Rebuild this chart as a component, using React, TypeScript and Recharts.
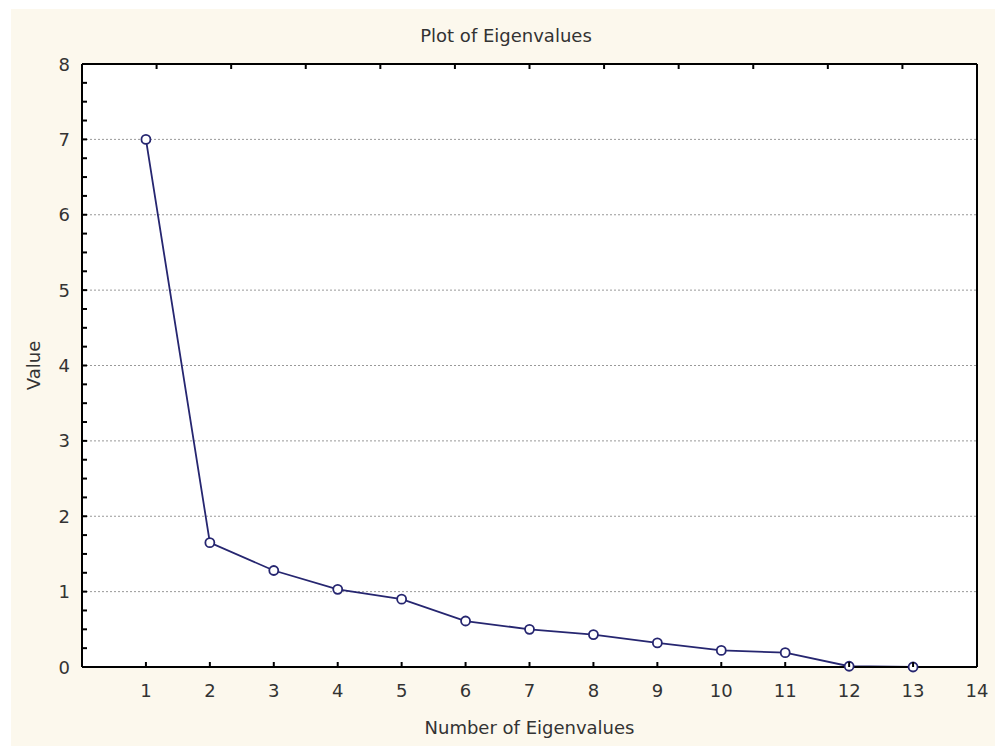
import {
  LineChart,
  Line,
  XAxis,
  YAxis,
  CartesianGrid,
  Label,
} from "recharts";

const eigenNumbers = [1, 2, 3, 4, 5, 6, 7, 8, 9, 10, 11, 12, 13];
const eigenValues = [7.0, 1.65, 1.28, 1.03, 0.9, 0.61, 0.5, 0.43, 0.32, 0.22, 0.19, 0.01, 0.0];

const xTicks = [1, 2, 3, 4, 5, 6, 7, 8, 9, 10, 11, 12, 13, 14];
const yMajorTicks = [0, 1, 2, 3, 4, 5, 6, 7, 8];
const gridValues = [1, 2, 3, 4, 5, 6, 7];
const yMinorTicks = yMajorTicks.flatMap((v) =>
  v < 8 ? [v, v + 0.25, v + 0.5, v + 0.75] : [v]
);

const data = eigenNumbers.map((n, i) => ({ n, value: eigenValues[i] }));

const FONT = "'DejaVu Sans', sans-serif";
const TEXT = "#333";
const LINE = "#262670";

const BottomTick = (props: any) => {
  const { x, y, payload } = props;
  return (
    <g>
      <line x1={x} x2={x} y1={y} y2={y - 5} stroke="#000" strokeWidth={2} />
      <text x={x} y={y + 23} textAnchor="middle" dominantBaseline="central" fill={TEXT} fontSize={18} fontFamily={FONT}>
        {payload.value}
      </text>
    </g>
  );
};

const TopTick = (props: any) => {
  const { x, y } = props;
  return <line x1={x} x2={x} y1={y} y2={y + 5} stroke="#000" strokeWidth={2} />;
};

const LeftTick = (props: any) => {
  const { x, y, payload } = props;
  const isMajor = Number.isInteger(payload.value);
  return (
    <g>
      <line x1={x} x2={x + 5} y1={y} y2={y} stroke="#000" strokeWidth={2} />
      {isMajor && (
        <text x={x - 12} y={y} textAnchor="end" dominantBaseline="central" fill={TEXT} fontSize={18} fontFamily={FONT}>
          {payload.value}
        </text>
      )}
    </g>
  );
};

const RightTick = (props: any) => {
  const { x, y } = props;
  return <line x1={x} x2={x - 5} y1={y} y2={y} stroke="#000" strokeWidth={2} />;
};

export default function App() {
  return (
    <div style={{ position: "absolute", left: 0, top: 0, width: 995, height: 746, background: "#fff" }}>
      <div style={{ position: "absolute", left: 11, top: 9, width: 984, height: 737, background: "#fcf8ed" }} />
      <div
        style={{
          position: "absolute",
          left: 0,
          top: 36,
          width: 1012,
          textAlign: "center",
          fontFamily: FONT,
          fontSize: 18,
          color: TEXT,
          lineHeight: "0px",
        }}
      >
        Plot of Eigenvalues
      </div>
      <div style={{ position: "absolute", left: 0, top: 0 }}>
        <LineChart width={995} height={746} data={data} margin={{ top: 0, right: 0, bottom: 0, left: 0 }}>
          <CartesianGrid
            vertical={false}
            horizontalValues={gridValues}
            fill="#fff"
            stroke="#999"
            strokeDasharray="2 2"
          />
          <XAxis
            dataKey="n"
            type="number"
            domain={[0, 14]}
            ticks={xTicks}
            height={79}
            tickSize={0}
            tickMargin={0}
            tickLine={false}
            axisLine={{ stroke: "#000", strokeWidth: 2 }}
            tick={BottomTick}
            interval={0}
          >
            <Label
              content={(p: any) => {
                const vb = p.viewBox;
                return (
                  <text x={vb.x + vb.width / 2} y={vb.y + 60} textAnchor="middle" dominantBaseline="central" fill={TEXT} fontSize={18} fontFamily={FONT}>
                    Number of Eigenvalues
                  </text>
                );
              }}
            />
          </XAxis>
          <XAxis
            xAxisId="top"
            orientation="top"
            type="number"
            domain={[0, 14]}
            ticks={xTicks}
            height={64}
            tickSize={0}
            tickMargin={0}
            tickLine={false}
            axisLine={{ stroke: "#000", strokeWidth: 2 }}
            tick={TopTick}
            interval={0}
          />
          <YAxis
            type="number"
            domain={[0, 8]}
            ticks={yMinorTicks}
            width={82}
            tickSize={0}
            tickMargin={0}
            tickLine={false}
            axisLine={{ stroke: "#000", strokeWidth: 2 }}
            tick={LeftTick}
            interval={0}
          >
            <Label
              content={(p: any) => {
                const vb = p.viewBox;
                const cx = vb.x + 33;
                const cy = vb.y + vb.height / 2;
                return (
                  <text x={cx} y={cy} transform={`rotate(-90, ${cx}, ${cy})`} textAnchor="middle" dominantBaseline="central" fill={TEXT} fontSize={18} fontFamily={FONT}>
                    Value
                  </text>
                );
              }}
            />
          </YAxis>
          <YAxis
            yAxisId="right"
            orientation="right"
            type="number"
            domain={[0, 8]}
            ticks={yMinorTicks}
            width={18}
            tickSize={0}
            tickMargin={0}
            tickLine={false}
            axisLine={{ stroke: "#000", strokeWidth: 2 }}
            tick={RightTick}
            interval={0}
          />
          <Line
            type="linear"
            dataKey="value"
            stroke={LINE}
            strokeWidth={1.8}
            dot={{ r: 4.5, stroke: LINE, strokeWidth: 1.8, fill: "#fff" }}
            isAnimationActive={false}
          />
        </LineChart>
      </div>
    </div>
  );
}
